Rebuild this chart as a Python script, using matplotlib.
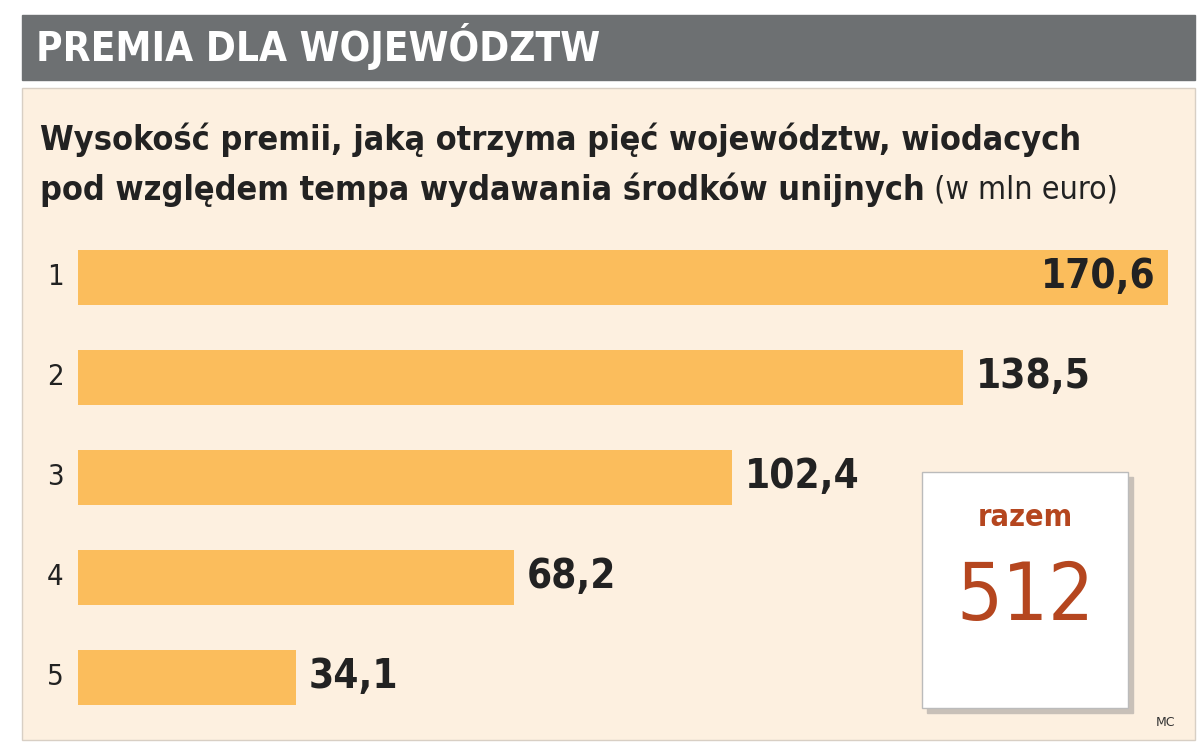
import matplotlib.pyplot as plt
from matplotlib.patches import Rectangle

ranks = ["1", "2", "3", "4", "5"]
values = [170.6, 138.5, 102.4, 68.2, 34.1]
labels = ["170,6", "138,5", "102,4", "68,2", "34,1"]
total = "512"

W, H = 1200, 742
fig = plt.figure(figsize=(12, 7.42), dpi=100)
fig.patch.set_facecolor("white")

# background layer in pixel coords
bg = fig.add_axes([0, 0, 1, 1])
bg.set_xlim(0, W)
bg.set_ylim(H, 0)
bg.axis("off")
bg.add_patch(Rectangle((22, 15), 1173, 65, color="#6d7072"))
bg.add_patch(Rectangle((22, 88), 1173, 652, facecolor="#fdf0e0", edgecolor="#d8cfc4", lw=1))
bg.text(36, 47, "PREMIA DLA WOJEWÓDZTW", color="white", fontsize=29, fontweight="bold",
        fontstretch="condensed", va="center", ha="left")
bg.text(40, 140, "Wysokość premii, jaką otrzyma pięć województw, wiodacych", fontsize=24.5,
        fontweight="bold", fontstretch="condensed", va="center", color="#222222")
t = bg.text(40, 190, "pod względem tempa wydawania środków unijnych", fontsize=24.5,
            fontweight="bold", fontstretch="condensed", va="center", color="#222222")
bg.annotate(" (w mln euro)", xy=(1, 0.5), xycoords=t, va="center", fontsize=23,
            fontstretch="condensed", color="#222222")
bg.text(1175, 722, "MC", fontsize=9, ha="right", va="center", color="#333333")

# razem box with shadow
bg.add_patch(Rectangle((927, 477), 206, 236, color="#c8c0b8", zorder=2))
bg.add_patch(Rectangle((922, 472), 206, 236, facecolor="white", edgecolor="#bbbbbb", lw=1, zorder=3))
bg.text(1025, 518, "razem", fontsize=22, fontweight="bold", fontstretch="condensed",
        color="#b5461f", ha="center", va="center", zorder=4)
bg.text(1025, 598, total, fontsize=58, fontstretch="condensed",
        color="#b5461f", ha="center", va="center", zorder=4)

# bars
ax = fig.add_axes([78 / W, (H - 727) / H, (1168 - 78) / W, 500 / H])
ax.set_facecolor("none")
ypos = list(range(len(values)))
ax.barh(ypos, values, height=0.55, color="#fbbd5c")
ax.set_xlim(0, max(values))
ax.set_ylim(len(values) - 0.5, -0.5)
ax.axis("off")
for i, (v, lab, r) in enumerate(zip(values, labels, ranks)):
    ax.text(-3.6, i, r, fontsize=21, fontstretch="condensed", ha="center", va="center",
            color="#222222")
    if i == 0:
        ax.text(v - 2, i, lab, fontsize=29, fontweight="bold", fontstretch="condensed",
                ha="right", va="center", color="#222222")
    else:
        ax.text(v + 2, i, lab, fontsize=29, fontweight="bold", fontstretch="condensed",
                ha="left", va="center", color="#222222")
for tx in ax.texts:
    tx.set_clip_on(False)

fig.savefig("out.png", dpi=100)
